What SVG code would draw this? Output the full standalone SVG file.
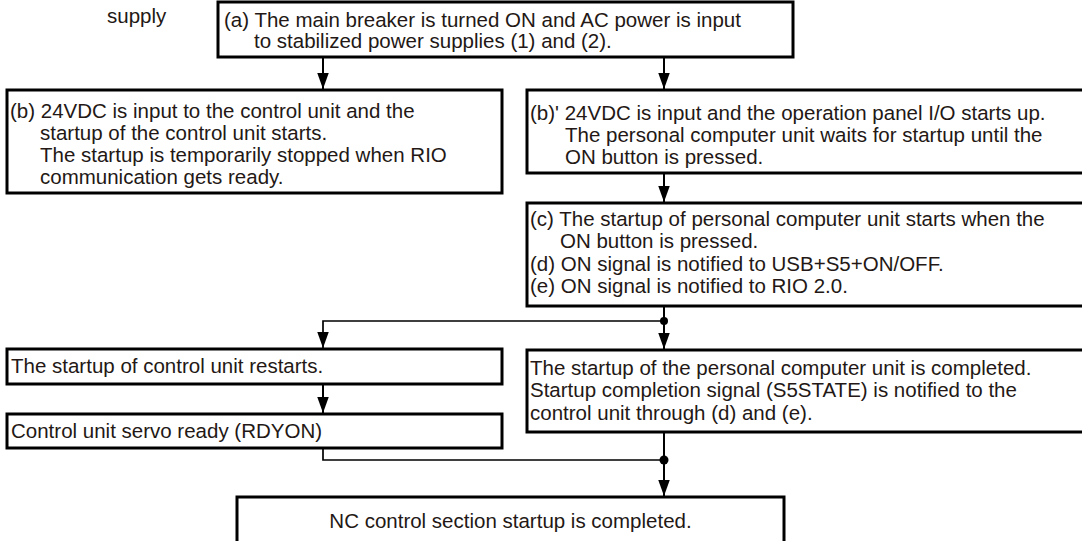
<svg xmlns="http://www.w3.org/2000/svg" width="1082" height="541" viewBox="0 0 1082 541">
<defs>
<style>
.box{fill:#fff;stroke:#000;stroke-width:3}
.t{font-family:"Liberation Sans",Arial,sans-serif;font-size:20.5px;fill:#231815}
.c{fill:none;stroke:#000;stroke-width:2}
.h{fill:none;stroke:#000;stroke-width:1.7}
.dot{fill:#000}
</style>
<marker id="arr" markerUnits="userSpaceOnUse" markerWidth="17" markerHeight="12" refX="16" refY="5.75" orient="auto">
<path d="M0,0 L16,5.75 L0,11.5 Z" fill="#000"/>
</marker>
</defs>
<rect width="1082" height="541" fill="#fff"/>
<text class="t" x="107" y="23">supply</text>
<g id="connectors">
<line class="c" x1="323" y1="57" x2="323" y2="89" marker-end="url(#arr)"/>
<line class="c" x1="664" y1="57" x2="664" y2="89" marker-end="url(#arr)"/>
<line class="c" x1="664" y1="173" x2="664" y2="202" marker-end="url(#arr)"/>
<line class="c" x1="664" y1="306" x2="664" y2="349" marker-end="url(#arr)"/>
<polyline class="h" points="664,321 323,321 323,348" marker-end="url(#arr)"/>
<circle class="dot" cx="664" cy="321" r="4"/>
<line class="c" x1="323" y1="384" x2="323" y2="413" marker-end="url(#arr)"/>
<polyline class="h" points="323,448 323,460 664,460"/>
<line class="c" x1="664" y1="432" x2="664" y2="496" marker-end="url(#arr)"/>
<circle class="dot" cx="664" cy="460" r="4.5"/>
</g>
<g id="node-a">
<rect class="box" x="218" y="2" width="575" height="55"/>
<text class="t" x="224" y="27">(a) The main breaker is turned ON and AC power is input</text>
<text class="t" x="254" y="48">to stabilized power supplies (1) and (2).</text>
</g>
<g id="node-b">
<rect class="box" x="7" y="90" width="495" height="103"/>
<text class="t" x="10" y="118">(b) 24VDC is input to the control unit and the</text>
<text class="t" x="40" y="140">startup of the control unit starts.</text>
<text class="t" x="40" y="162">The startup is temporarily stopped when RIO</text>
<text class="t" x="40" y="184">communication gets ready.</text>
</g>
<g id="node-b2">
<rect class="box" x="527" y="90" width="600" height="83"/>
<text class="t" x="530" y="120">(b)' 24VDC is input and the operation panel I/O starts up.</text>
<text class="t" x="565" y="142">The personal computer unit waits for startup until the</text>
<text class="t" x="565" y="164">ON button is pressed.</text>
</g>
<g id="node-c">
<rect class="box" x="527" y="203" width="600" height="103"/>
<text class="t" x="530" y="226">(c) The startup of personal computer unit starts when the</text>
<text class="t" x="560" y="248">ON button is pressed.</text>
<text class="t" x="530" y="271">(d) ON signal is notified to USB+S5+ON/OFF.</text>
<text class="t" x="530" y="293">(e) ON signal is notified to RIO 2.0.</text>
</g>
<g id="node-restart">
<rect class="box" x="7" y="349" width="495" height="35"/>
<text class="t" x="11" y="373">The startup of control unit restarts.</text>
</g>
<g id="node-servo">
<rect class="box" x="7" y="414" width="495" height="34"/>
<text class="t" x="11" y="438">Control unit servo ready (RDYON)</text>
</g>
<g id="node-pc">
<rect class="box" x="527" y="350" width="600" height="82"/>
<text class="t" x="530" y="375">The startup of the personal computer unit is completed.</text>
<text class="t" x="530" y="397">Startup completion signal (S5STATE) is notified to the</text>
<text class="t" x="530" y="420">control unit through (d) and (e).</text>
</g>
<g id="node-nc">
<rect class="box" x="237" y="497" width="547" height="60"/>
<text class="t" x="510.5" y="528" text-anchor="middle">NC control section startup is completed.</text>
</g>
</svg>
